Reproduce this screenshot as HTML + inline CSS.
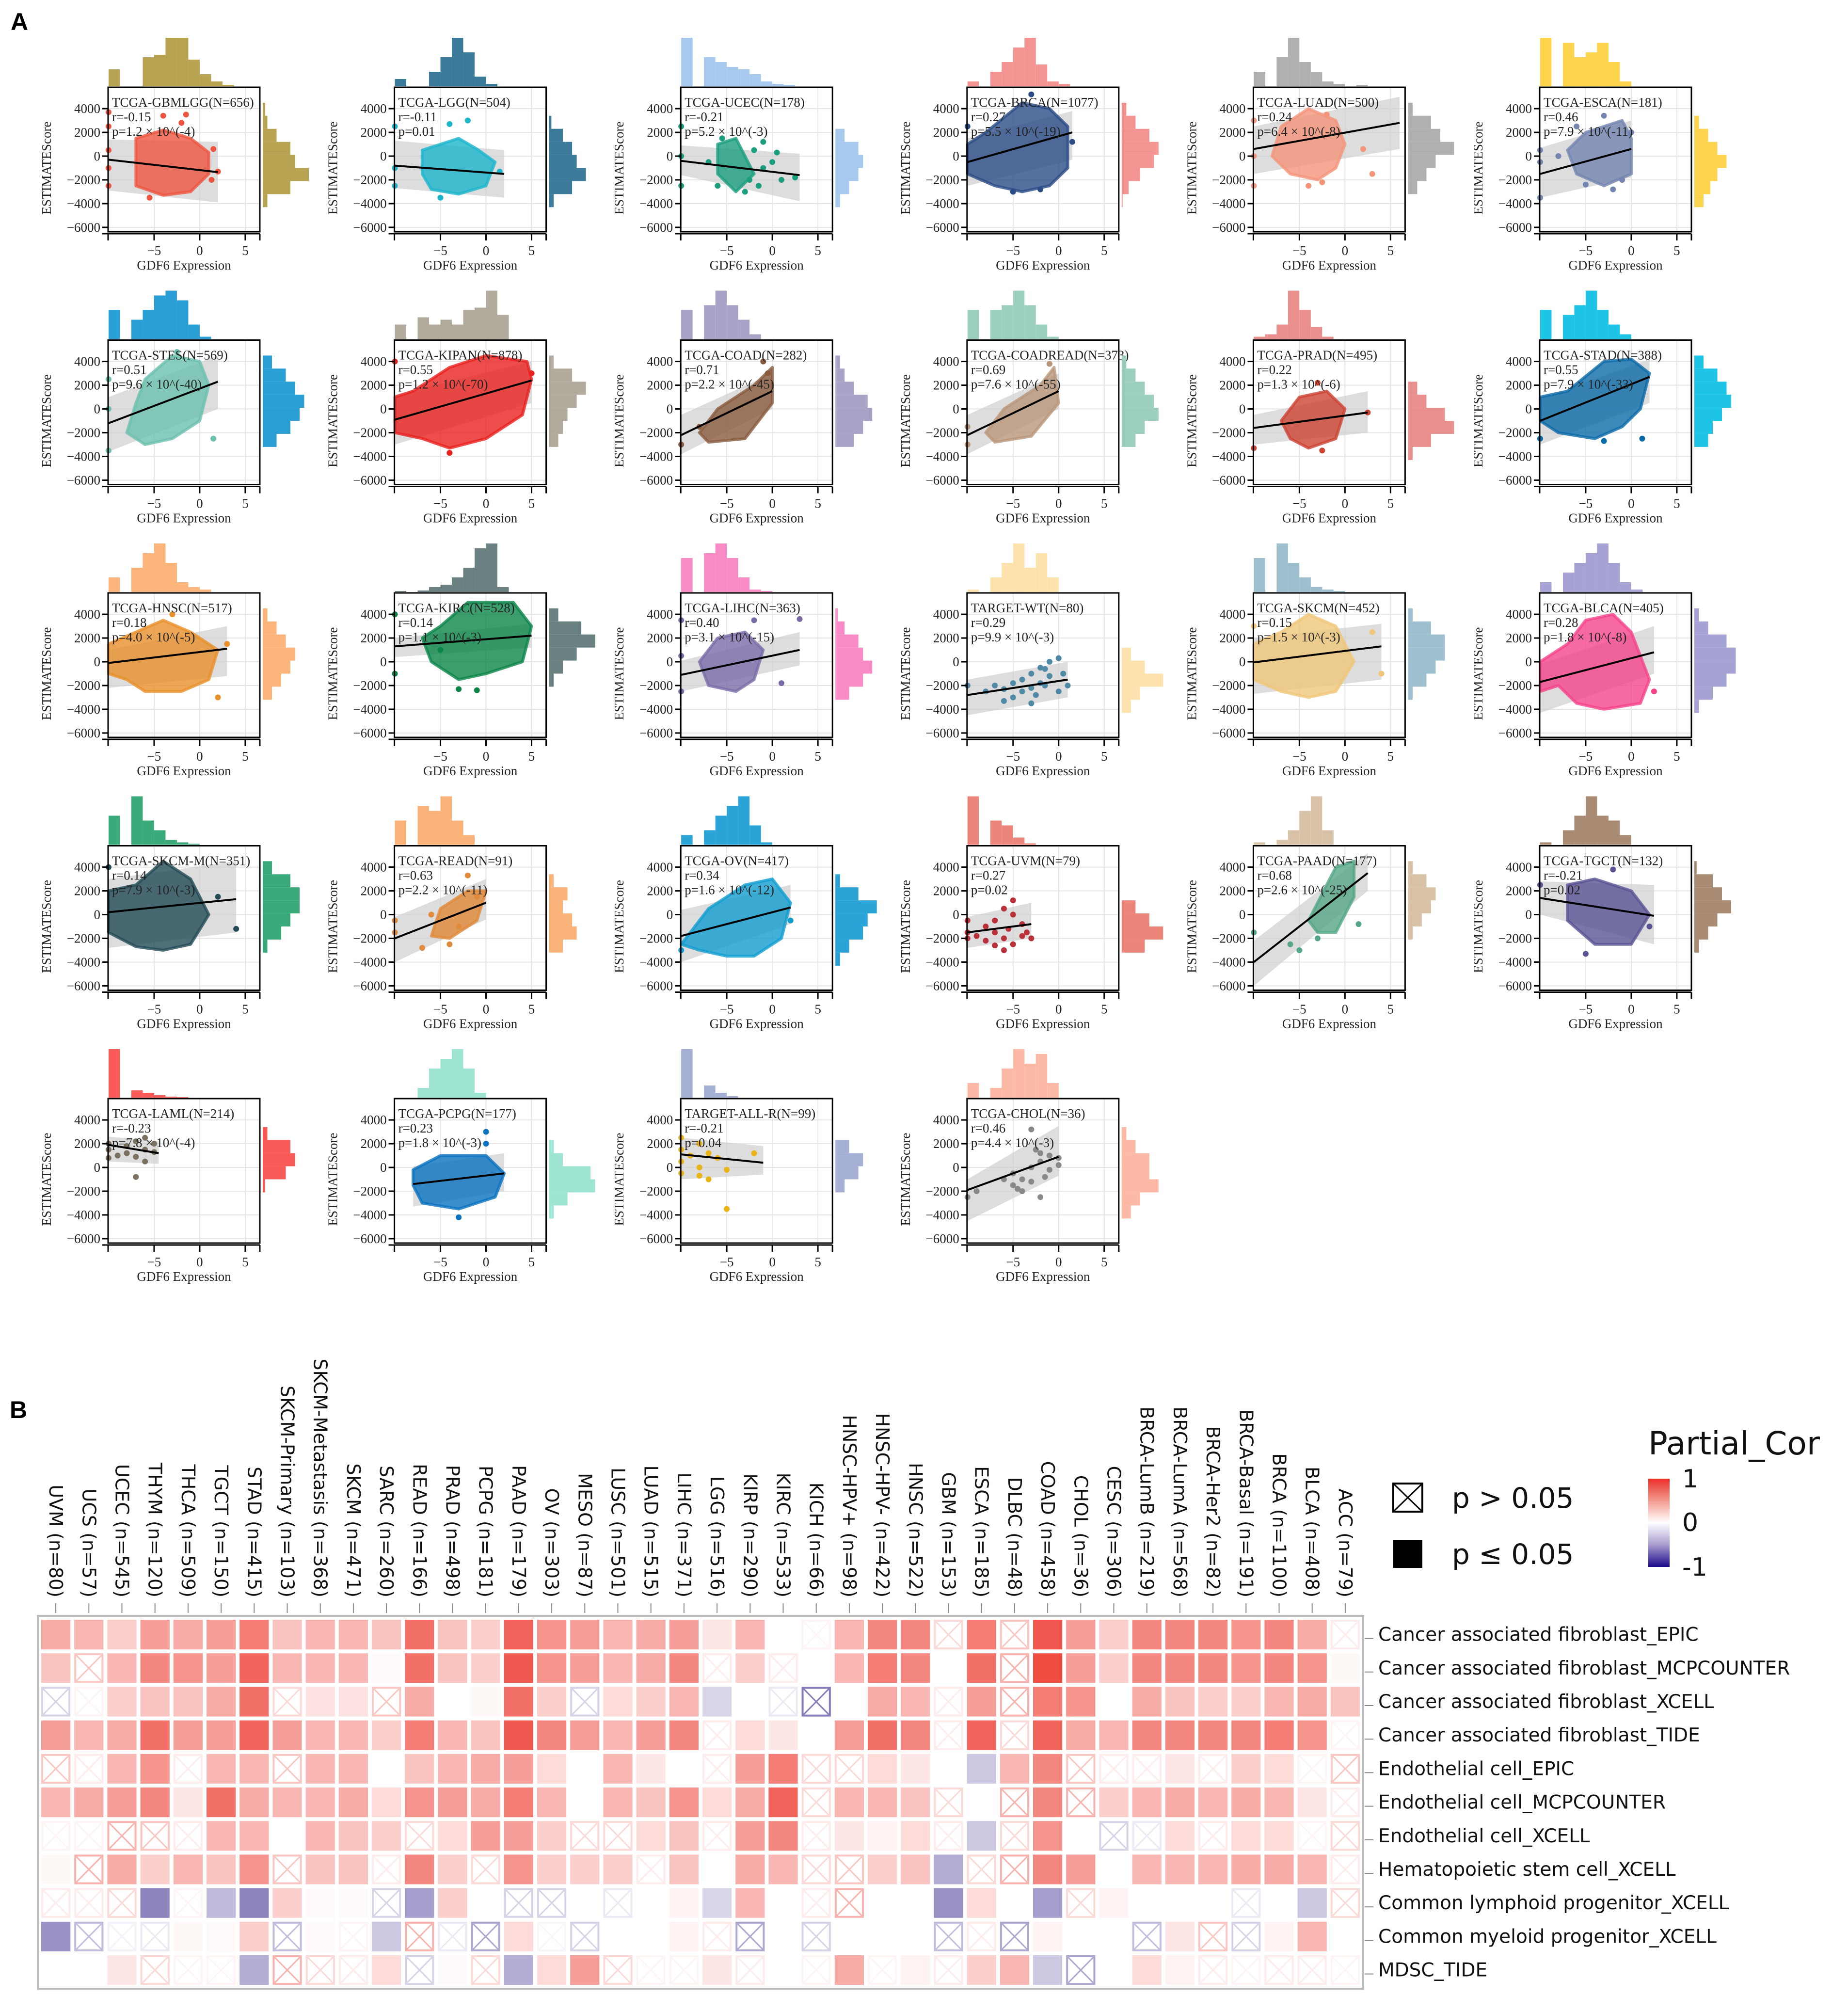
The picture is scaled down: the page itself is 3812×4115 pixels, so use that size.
<!DOCTYPE html>
<html><head><meta charset="utf-8"><style>
html,body{margin:0;padding:0;background:#fff;}
svg{display:block;}
</style></head><body>
<svg id="fig" width="3812" height="4115" viewBox="0 0 3812 4115" xmlns="http://www.w3.org/2000/svg">
<rect x="0" y="0" width="3812" height="4115" fill="#fff"/>
<text x="22" y="62" font-family="Liberation Sans, sans-serif" font-weight="bold" font-size="50">A</text>
<text x="20" y="2925" font-family="Liberation Sans, sans-serif" font-weight="bold" font-size="50">B</text>
<g id="scatters"></g>
<g id="heat"></g>
</svg>
<script>
// ---------- scatter panel data ----------
const panelNames=["TCGA-GBMLGG","TCGA-LGG","TCGA-UCEC","TCGA-BRCA","TCGA-LUAD","TCGA-ESCA","TCGA-STES","TCGA-KIPAN","TCGA-COAD","TCGA-COADREAD","TCGA-PRAD","TCGA-STAD","TCGA-HNSC","TCGA-KIRC","TCGA-LIHC","TARGET-WT","TCGA-SKCM","TCGA-BLCA","TCGA-SKCM-M","TCGA-READ","TCGA-OV","TCGA-UVM","TCGA-PAAD","TCGA-TGCT","TCGA-LAML","TCGA-PCPG","TARGET-ALL-R","TCGA-CHOL"];
const panelN=[656,504,178,1077,500,181,569,878,282,373,495,388,517,528,363,80,452,405,351,91,417,79,177,132,214,177,99,36];
const panelR=["-0.15","-0.11","-0.21","0.27","0.24","0.46","0.51","0.55","0.71","0.69","0.22","0.55","0.18","0.14","0.40","0.29","0.15","0.28","0.14","0.63","0.34","0.27","0.68","-0.21","-0.23","0.23","-0.21","0.46"];
const panelP=["1.2 × 10^(-4)","0.01","5.2 × 10^(-3)","5.5 × 10^(-19)","6.4 × 10^(-8)","7.9 × 10^(-11)","9.6 × 10^(-40)","1.2 × 10^(-70)","2.2 × 10^(-45)","7.6 × 10^(-55)","1.3 × 10^(-6)","7.9 × 10^(-33)","4.0 × 10^(-5)","1.1 × 10^(-3)","3.1 × 10^(-15)","9.9 × 10^(-3)","1.5 × 10^(-3)","1.8 × 10^(-8)","7.9 × 10^(-3)","2.2 × 10^(-11)","1.6 × 10^(-12)","0.02","2.6 × 10^(-25)","0.02","7.8 × 10^(-4)","1.8 × 10^(-3)","0.04","4.4 × 10^(-3)"];
const lineX0=[-10,-10,-10,-10,-10,-10,-10,-10,-10,-10,-10,-10,-10,-10,-10,-10,-10,-10,-10,-10,-10,-10,-10,-10,-10,-8,-10,-10];
const lineY0=[-300,-800,-400,-500,600,-1500,-1200,-900,-2200,-2200,-1600,-1000,-100,1300,-1100,-2800,-50,-1700,200,-2000,-1800,-1500,-4000,1400,1900,-1400,1100,-1900];
const lineX1=[2,2,3,1.5,6,0,2,5,0,0,2.5,2,3,5,3,1,4,2.5,4,0,2,-3,2.5,2.5,-4.5,2,-1,0];
const lineY1=[-1350,-1500,-1600,2000,2800,600,2300,2400,1500,1500,-300,2700,1100,2200,1000,-1500,1300,800,1300,1000,600,-800,3500,-100,1200,-500,400,900];
const bandLo0=[-2900,-2700,-1600,-2500,-1500,-3500,-3600,-3000,-3800,-3800,-3000,-3000,-2200,400,-2500,-4500,-2700,-4300,-2800,-4000,-4000,-2800,-6000,0,500,-3300,-1000,-4500];
const bandHi0=[1400,1300,900,1500,2500,700,1000,1200,-500,-500,-500,800,1000,2000,100,-1500,2000,-200,3000,-200,400,-200,-2200,2800,2600,100,2500,-1000];
const bandLo1=[-3900,-3500,-3800,-300,600,-1800,0,500,0,0,-2000,500,-1200,1200,-300,-3000,-1500,-1000,-1500,-400,-800,-2000,2000,-2500,300,-2000,-600,-700];
const bandHi1=[1200,500,200,3800,5000,3000,4500,4000,3000,3000,1500,4200,3000,3200,2500,0,3200,3000,4500,3000,2500,1000,5200,2500,2200,1200,1800,3500];
const hulls=[
[[-7,1500],[-4,2200],[-1,1500],[1,300],[1,-1500],[-1,-3000],[-4,-3300],[-7,-2500]],
[[-7,500],[-3,1500],[-1,600],[1,-500],[0,-2500],[-3,-3200],[-6,-2800],[-7,-1500]],
[[-6,1000],[-4,1500],[-3,0],[-2,-1500],[-4,-3000],[-6,-1500]],
[[-8,2000],[-4,4500],[-1,4000],[1,2500],[1,-1000],[-1,-2500],[-4,-3000],[-7,-2500],[-10,-1500],[-10,1000]],
[[-7,2500],[-4,4000],[-1,3000],[0,1000],[-1,-1000],[-3,-2000],[-6,-1500],[-8,0]],
[[-5,2000],[-1,3000],[0,1500],[0,-1500],[-3,-2500],[-6,-1500],[-7,500]],
[[-6,2500],[-3,4500],[0,4000],[1,2000],[0,-1000],[-3,-2500],[-6,-3000],[-8,-2000],[-7,500]],
[[-8,1500],[-4,3500],[0,4500],[4.5,4000],[5,2500],[4,-500],[0,-2500],[-4,-3300],[-7,-2500],[-10,-2000],[-10,1000]],
[[-6,0],[-2,2000],[0,3500],[0,500],[-3,-2500],[-7,-2800],[-8,-2000]],
[[-6,0],[-2,2000],[-0.5,3500],[0,500],[-3,-2300],[-7,-2800],[-8,-2000]],
[[-5,1000],[-2,1500],[0,0],[-1,-2500],[-4,-3300],[-6,-2500],[-7,-1000]],
[[-7,1500],[-3,4000],[0,4200],[2,3000],[1,0],[-1,-1500],[-4,-2500],[-8,-2000],[-10,-1000],[-10,1000]],
[[-7,2500],[-4,3500],[-1,2500],[2,1000],[1,-1500],[-2,-2500],[-6,-2500],[-8,-1500],[-10,-1000],[-10,1500]],
[[-5,3000],[-2,5000],[3,5000],[5,3000],[4,0],[0,-1000],[-3,-1500],[-6,0],[-7,2000]],
[[-6,2000],[-3,2500],[-1,1000],[-2,-1500],[-4,-2500],[-7,-2000],[-8,0]],
[],
[[-7,2500],[-4,4000],[-1,3000],[1,0],[-1,-2500],[-4,-3000],[-7,-2500],[-10,-1500],[-10,1500]],
[[-5,3500],[-2,4000],[0,2500],[2,-1500],[1,-3500],[-3,-4000],[-6,-3500],[-8,-2000],[-10,-2500],[-10,0],[-7,1500]],
[[-7,2500],[-4,4500],[-1,3000],[1,0],[-1,-2500],[-4,-3000],[-7,-2700],[-10,-1500],[-10,2000]],
[[-5,500],[-2,2000],[0,2000],[-1,-500],[-4,-2000],[-6,-1800]],
[[-7,500],[-3,2500],[0,3000],[2,1000],[1,-2000],[-2,-3500],[-5,-3500],[-8,-3000],[-10,-2500]],
[],
[[-3,1000],[-1,4000],[1,4500],[1,1500],[-1,-1500],[-3,-1500],[-4,-500]],
[[-7,2500],[-4,3000],[0,2000],[2,0],[0,-2500],[-4,-2500],[-7,-500]],
[],
[[-8,-200],[-5,1000],[0,1000],[2,-500],[1,-2500],[-3,-3500],[-7,-3000],[-8,-1500]],
[],
[]];
const outliers=[
[[-10,3700],[-10,2500],[-10,500],[-10,-1000],[-10,-2500],[-4,3400],[-1.5,3500],[-2,2800],[1.5,600],[2,-1300],[1.3,-2000],[-5.5,-3500]],
[[-10,2500],[-10,-1000],[-10,-2500],[-4,2700],[-2,3000],[-5,-3500],[1.5,-1300]],
[[-10,2500],[-10,0],[-10,-2500],[-1,1200],[0,-500],[1,-2000],[2.5,-1800],[-1.5,-2500],[-3,-3000],[-2,500],[-5.5,1500],[-1,-1000],[0.5,300],[-2.5,-2000],[-7,-500],[-6,-2500]],
[[-10,2500],[-3,5200],[1.5,1200],[-5,-3000],[-2,-2800]],
[[-10,3000],[-10,0],[-10,-2500],[-4,-2500],[-2.5,-2200],[2,600],[3,-1500],[-2,3500]],
[[-10,-3500],[-10,-500],[-10,500],[-8,0],[-6,2500],[-3,3400],[-1,-2000],[-5,-2400],[0,2000],[-2,-2800]],
[[-10,-3500],[-10,2500],[-10,0],[1.5,-2500],[-2.5,4800]],
[[-10,4000],[-4,-3700],[5,3000]],
[[-10,-3000],[-1,4000],[-0.5,3000],[-8,-1500]],
[[-10,-3000],[-10,-1500],[-1,3800]],
[[-10,-3300],[-3,2200],[2.5,-300],[-2.5,-3500]],
[[-10,-2500],[1.2,-2500],[-3,-2700]],
[[2,-3000],[-3,4000],[3,1500]],
[[-10,4000],[-10,-1000],[-3,-2300],[-1,-2400],[-5,1000]],
[[-10,3500],[-10,-2500],[1,-1800],[-2,3500],[3,3600],[-10,500]],
[[-10,-2000],[-8,-2500],[-7,-2000],[-6,-2300],[-5,-1800],[-5,-3000],[-4,-2500],[-4,-1500],[-3,-1000],[-3,-2200],[-2.5,-2800],[-2,-500],[-2,-1800],[-1.5,-2000],[-1,0],[-1,-1200],[0,-2500],[0,300],[0.5,-1000],[1,-2000],[-3,-3500],[-6,-3300],[-1.5,-600]],
[[3,2500],[4,-1000],[-10,3000]],
[[2.5,-2500]],
[[-10,4000],[4,-1200],[2,1500]],
[[-10,-500],[-10,-1500],[-7,-2800],[-4,-2500],[-2,3300],[-1,1500],[-3,-1000],[-6,0]],
[[-10,-3000],[2,-500]],
[[-10,-2000],[-10,-500],[-10,-1500],[-9,-1800],[-8,-1000],[-8,-2200],[-7,-500],[-7,-1500],[-6,-2000],[-6,-3000],[-6,500],[-5.5,-1200],[-5,-2500],[-5,1200],[-4,-1800],[-4,-800],[-3.5,-1500],[-3,-2000],[-5,0],[-7,-2600]],
[[-6,-2500],[-5,-3000],[-10,-1500],[-3,-2000],[1.5,-800]],
[[-10,2500],[-5,-3300],[-2,3800],[2,-1000]],
[[-10,2000],[-10,1500],[-10,800],[-8,1800],[-8,1200],[-7,2200],[-7,900],[-6,1500],[-6,500],[-5,1300],[-5,2000],[-7,-800],[-9,1000],[-6,2500]],
[[0,3000],[0,2000],[-3,-4200]],
[[-10,2500],[-10,1500],[-10,500],[-10,-500],[-9,1000],[-8,2000],[-8,0],[-7,-1000],[-7,1200],[-6,800],[-5,-200],[-5,-3500],[-2,1200],[-8,-700]],
[[-10,-2500],[-9,-2000],[-6,-1000],[-5,-500],[-5,-1500],[-4,-1000],[-4,-2000],[-3,0],[-3,-1200],[-2.5,1500],[-2,500],[-2,-2500],[-1.5,-800],[-1,-200],[-1,1000],[0,200],[-3,3200],[-4.5,-1800],[-2,1200],[0,800]]];
const topHist=[
[0.35,0,0,0.6,0.65,1,1,0.55,0.25,0.1,0.03],
[0.15,0,0,0.3,0.6,1,0.7,0.2,0.05,0],
[1,0,0.6,0.5,0.4,0.35,0.25,0.1,0.05,0.03],
[0.1,0,0.3,0.5,0.8,1,0.45,0.1,0.05],
[0.3,0,0.6,1,0.5,0.3,0.1,0.05,0,0.03],
[1,0,0.9,0.6,0.7,0.9,0.5,0.1],
[0.6,0,0.4,0.6,0.9,1,0.8,0.3,0.05],
[0.3,0,0.45,0.3,0.4,0.3,0.6,0.65,1,0.5],
[0.6,0,0.7,1,0.7,0.4,0.1],
[0.6,0,0.6,0.7,1,0.7,0.3,0.05],
[0.05,0.1,0.3,1,0.6,0.25,0.05],
[0.6,0,0.5,0.7,1,0.6,0.3,0.1],
[0.3,0,0.5,0.8,1,0.6,0.2,0.1,0.05],
[0.02,0,0.03,0.1,0.15,0.3,0.5,0.9,1,0.1],
[0.7,0,0.8,1,0.7,0.3,0.05,0.02],
[0.05,0,0.3,0.6,1,0.5,0.8,0.3],
[0.7,0,1,0.6,0.3,0.1,0.05,0.02],
[0.2,0,0.4,0.6,0.8,1,0.6,0.2,0.05],
[0.6,0,1,0.5,0.3,0.1,0.05,0.02],
[0.5,0,0.8,0.7,1,0.5,0.2],
[0.2,0,0.3,0.6,0.8,1,0.4,0.05],
[1,0,0.5,0.4,0.15,0.03],
[0.05,0,0.1,0.3,0.7,1,0.3],
[0.05,0,0.3,0.6,1,0.6,0.5,0.2],
[1,0,0.15,0.1,0.05,0.02,0.01],
[0,0,0.2,0.6,0.8,1,0.6,0.1],
[1,0,0.25,0.1,0.03],
[0.3,0,0.2,0.6,1,0.7,0.9,0.3]];
const rightHist=[
[0.05,0.1,0.3,0.6,0.7,1,0.6,0.1],
[0,0.05,0.3,0.5,0.6,0.8,0.5,0.1],
[0,0,0.2,0.5,0.6,0.5,0.3,0.1],
[0.1,0.3,0.6,0.8,0.7,0.4,0.15,0.02],
[0.1,0.5,0.7,1,0.6,0.4,0.2,0],
[0,0.1,0.3,0.5,0.7,0.5,0.35,0.2],
[0.2,0.5,0.7,0.9,0.8,0.6,0.3,0],
[0.1,0.5,0.8,0.6,0.4,0.3,0.2,0],
[0.1,0.2,0.4,0.7,0.8,0.6,0.4,0],
[0.1,0.3,0.5,0.7,0.8,0.5,0.3,0],
[0,0,0.2,0.4,0.8,1,0.5,0.1],
[0.2,0.5,0.7,0.8,0.6,0.4,0.3,0],
[0.1,0.3,0.5,0.7,0.6,0.4,0.2,0],
[0.2,0.7,1,0.6,0.3,0.1,0,0],
[0.05,0.2,0.5,0.6,0.8,0.6,0.3,0],
[0,0,0,0.2,0.5,0.9,0.4,0.2],
[0.1,0.5,0.8,0.8,0.6,0.4,0.1,0],
[0.1,0.3,0.7,0.9,0.9,0.7,0.4,0.1],
[0.2,0.6,0.8,0.8,0.6,0.4,0.1,0],
[0,0.1,0.4,0.3,0.5,0.6,0.3,0],
[0,0.1,0.5,0.9,0.7,0.6,0.3,0.1],
[0,0,0,0.3,0.6,0.9,0.5,0],
[0.1,0.4,0.6,0.5,0.3,0.1,0,0],
[0.05,0.4,0.6,0.8,0.5,0.3,0.1,0],
[0,0.1,0.6,0.7,0.5,0.05,0,0],
[0,0,0.1,0.3,0.9,1,0.4,0.1],
[0,0,0.3,0.6,0.5,0.2,0,0],
[0,0.1,0.3,0.6,0.6,0.8,0.4,0.2]];
const yTicks=[4000,2000,0,-2000,-4000,-6000];
const xTicks=[-5,0,5];
// style (not data)
const pointColors=["#ee5540","#1bb5cc","#1a9e7e","#2b4c86","#f4957a","#7385b0","#6cc0ae","#e8201e","#8a5b3e","#b9967a","#cc4433","#0b6aa8","#e8902a","#0b8448","#7a6ba8","#4e8aa6","#f0c77a","#f4448a","#234b56","#e08a3a","#119ecf","#b83038","#55a687","#595494","#7a7060","#0a72bf","#e8b418","#888888"];
const histColors=["#b8a352","#3c7a9a","#a7c9ee","#f39492","#b0b0b0","#fcd44e","#2a9fd6","#b2aa9d","#a9a3c8","#9dcfbe","#e98f8d","#1ec4e6","#fbb479","#6b8080","#f88bc6","#fde2ad","#9ebfce","#a6a2d4","#3aaa7a","#f9b378","#2aa4d6","#ec857a","#d9c3a8","#a98a72","#f85a58","#9fe4d2","#a5aed4","#fcbaa6"];

const NS="http://www.w3.org/2000/svg";
function mk(tag,attrs,parent){const e=document.createElementNS(NS,tag);for(const k in attrs)e.setAttribute(k,attrs[k]);if(parent)parent.appendChild(e);return e;}
const XMIN=-10.05,XMAX=6.6,YMIN=-6370,YMAX=5800,BW=313,BH=298;
const scat=document.getElementById('scatters');
const SERIF="Liberation Serif, serif";
panelNames.forEach((nm,i)=>{
  const col=i%6,row=Math.floor(i/6);
  const L=223+col*590.6,T=180+row*521.5;
  const sx=x=>L+(x-XMIN)/(XMAX-XMIN)*BW;
  const sy=y=>T+(YMAX-y)/(YMAX-YMIN)*BH;
  const g=mk('g',{},scat);
  
  
  yTicks.forEach(t=>{const l=mk('line',{x1:L,x2:L+BW,y1:sy(t),y2:sy(t),stroke:'#e4e4e4','stroke-width':2},g);});
  xTicks.forEach(t=>{const l=mk('line',{x1:sx(t),x2:sx(t),y1:T,y2:T+BH,stroke:'#e4e4e4','stroke-width':2},g);});
  const bx1=lineX1[i];
  const band=mk('polygon',{points:[[sx(lineX0[i]),sy(bandHi0[i])],[sx(bx1),sy(bandHi1[i])],[sx(bx1),sy(bandLo1[i])],[sx(lineX0[i]),sy(bandLo0[i])]].map(p=>p.join(',')).join(' '),fill:'#cfcfcf','fill-opacity':0.7},g);
  
  if(hulls[i].length){
    const h=mk('polygon',{points:hulls[i].map(p=>sx(p[0])+','+sy(p[1])).join(' '),fill:pointColors[i],stroke:pointColors[i],'stroke-width':6,'stroke-linejoin':'round','fill-opacity':0.8,'stroke-opacity':0.8},g);
    
  }
  outliers[i].forEach(p=>{const c=mk('circle',{cx:sx(p[0]),cy:sy(p[1]),r:6,fill:pointColors[i]},g);});
  const rl=mk('line',{x1:sx(lineX0[i]),y1:sy(lineY0[i]),x2:sx(lineX1[i]),y2:sy(lineY1[i]),stroke:'#000','stroke-width':4},g);
  
  const bx=mk('rect',{x:L,y:T,width:BW,height:BH,fill:'none',stroke:'#000','stroke-width':3},g);
  
  mk('line',{x1:L-12,x2:L+BW,y1:T+BH+4,y2:T+BH+4,stroke:'#000','stroke-width':3},g);
  yTicks.forEach(t=>{
    mk('line',{x1:L-12,x2:L,y1:sy(t),y2:sy(t),stroke:'#000','stroke-width':3},g);
    const tx=mk('text',{x:L-16,y:sy(t)+9,'text-anchor':'end','font-family':SERIF,'font-size':27,fill:'#222'},g);
    tx.textContent=t<0?'−'+(-t):String(t);
    
  });
  [XMIN,...xTicks,XMAX].forEach(t=>{mk('line',{x1:sx(t),x2:sx(t),y1:T+BH+4,y2:T+BH+18,stroke:'#000','stroke-width':3},g);});
  xTicks.forEach(t=>{
    const tx=mk('text',{x:sx(t),y:T+BH+48,'text-anchor':'middle','font-family':SERIF,'font-size':27,fill:'#222'},g);
    tx.textContent=t<0?'−'+(-t):String(t);
    
  });
  const xl=mk('text',{x:L+BW/2,y:T+BH+78,'text-anchor':'middle','font-family':SERIF,'font-size':27,fill:'#222'},g);
  xl.textContent='GDF6 Expression';
  const yl=mk('text',{x:0,y:0,'text-anchor':'middle','font-family':SERIF,'font-size':27,fill:'#222',transform:`translate(${L-118},${sy(-1000)}) rotate(-90)`},g);
  yl.textContent='ESTIMATEScore';
  [nm+'(N='+panelN[i]+')','r='+panelR[i],'p='+panelP[i]].forEach((s,k)=>{
    const a=mk('text',{x:L+8,y:T+40+k*30,'font-family':SERIF,'font-size':27,fill:'#222'},g);
    a.textContent=s;
  });
  const bwid=1.25;
  topHist[i].forEach((v,k)=>{
    if(v<=0)return;
    const x0=sx(-10+k*bwid),x1=sx(-10+(k+1)*bwid),hh=v*100;
    const r=mk('rect',{x:x0,y:T-2-hh,width:x1-x0,height:hh,fill:histColors[i]},g);
    
  });
  const ybin=1100;
  rightHist[i].forEach((v,k)=>{
    if(v<=0)return;
    const y0=sy(4500-k*ybin),y1=sy(4500-(k+1)*ybin),ww=v*95;
    const r=mk('rect',{x:L+BW+6,y:y0,width:ww,height:y1-y0,fill:histColors[i]},g);
    
  });
});

// ---------- heatmap data ----------
const heatCols=["UVM (n=80)","UCS (n=57)","UCEC (n=545)","THYM (n=120)","THCA (n=509)","TGCT (n=150)","STAD (n=415)","SKCM-Primary (n=103)","SKCM-Metastasis (n=368)","SKCM (n=471)","SARC (n=260)","READ (n=166)","PRAD (n=498)","PCPG (n=181)","PAAD (n=179)","OV (n=303)","MESO (n=87)","LUSC (n=501)","LUAD (n=515)","LIHC (n=371)","LGG (n=516)","KIRP (n=290)","KIRC (n=533)","KICH (n=66)","HNSC-HPV+ (n=98)","HNSC-HPV- (n=422)","HNSC (n=522)","GBM (n=153)","ESCA (n=185)","DLBC (n=48)","COAD (n=458)","CHOL (n=36)","CESC (n=306)","BRCA-LumB (n=219)","BRCA-LumA (n=568)","BRCA-Her2 (n=82)","BRCA-Basal (n=191)","BRCA (n=1100)","BLCA (n=408)","ACC (n=79)"];
const heatRows=["Cancer associated fibroblast_EPIC","Cancer associated fibroblast_MCPCOUNTER","Cancer associated fibroblast_XCELL","Cancer associated fibroblast_TIDE","Endothelial cell_EPIC","Endothelial cell_MCPCOUNTER","Endothelial cell_XCELL","Hematopoietic stem cell_XCELL","Common lymphoid progenitor_XCELL","Common myeloid progenitor_XCELL","MDSC_TIDE"];
const cor1=[.35,.3,.2,.4,.35,.4,.55,.25,.3,.3,.25,.6,.25,.2,.65,.45,.4,.3,.35,.4,.1,.3,0,.03,.3,.5,.5,.1,.55,.15,.7,.4,.2,.5,.5,.5,.45,.5,.35,.05];
const cor2=[.25,.15,.3,.5,.45,.4,.65,.3,.3,.3,.02,.6,.25,.2,.7,.45,.4,.3,.35,.5,.05,.2,.05,0,.3,.55,.5,0,.6,.2,.75,.4,.2,.5,.5,.5,.45,.5,.45,.03];
const cor3=[-.1,.03,.2,.25,.25,.35,.6,.1,.12,.12,.15,.35,0,.03,.6,.2,-.1,.15,.2,.3,-.15,0,-.05,-.3,0,.35,.3,.05,.4,.2,.55,.45,0,.35,.25,.2,.2,.3,.35,.25];
const cor4=[.4,.3,.35,.6,.4,.4,.65,.4,.3,.3,.2,.55,.3,.25,.7,.5,.4,.3,.4,.5,.05,.15,.1,0,.4,.6,.5,.05,.65,.1,.65,.35,.3,.5,.5,.5,.5,.55,.45,.03];
const cor5=[.15,.05,.3,.45,.05,.3,.3,.15,.3,.3,0,.25,.3,.35,.4,.15,0,.3,.1,0,.05,.4,.55,.1,.1,.15,.1,0,-.2,.3,.5,.15,.05,.05,.1,.05,.2,.15,.03,.15];
const cor6=[.3,.35,.4,.5,.1,.6,.35,.3,.3,.35,.15,.45,.4,.35,.55,.3,0,.3,.25,.45,.15,.35,.65,.1,.3,.3,.25,.1,0,.2,.5,.2,.2,.3,.35,.3,.35,.3,.1,.05];
const cor7=[.03,.03,.2,.15,.05,.3,.3,0,.3,.25,.2,.1,.15,.4,.4,.2,.1,.1,.15,.25,.05,.4,.5,.05,.1,.05,.15,.05,-.2,.1,.45,0,-.1,-.05,.15,.05,.15,.15,.03,.1];
const cor8=[.03,.2,.35,.2,.3,.25,.45,.15,.25,.25,.05,.5,.2,.1,.45,.2,.2,.2,.05,.25,0,.35,.3,.1,.15,.2,.25,-.3,.1,.2,.5,.4,0,.3,.3,.3,.35,.35,.3,.05];
const cor9=[.05,.05,.1,-.45,.03,-.25,-.45,.2,.02,.02,-.1,-.35,.2,0,-.1,-.1,0,-.05,0,.05,-.15,.3,0,.05,.2,0,0,-.4,.15,0,-.35,.1,.05,0,0,0,-.05,0,-.2,.1];
const cor10=[-.4,-.15,-.03,-.05,.03,.02,.2,-.15,.02,.03,-.2,.2,-.05,-.2,.15,-.02,-.1,0,0,.05,.05,-.2,0,-.1,0,0,0,-.15,.05,-.2,.05,0,0,-.15,.1,.15,-.1,.05,.3,0];
const cor11=[0,0,.1,.1,.03,.03,-.3,.2,.1,.05,.15,-.1,.02,.1,-.3,.15,.4,.1,.03,.03,.1,.05,0,.03,.35,.03,.05,.05,.2,.3,-.2,-.2,0,.15,.05,.05,.03,.05,.05,.03];
const cors=[cor1,cor2,cor3,cor4,cor5,cor6,cor7,cor8,cor9,cor10,cor11];
const ns1=[24,28,30,40],ns2=[2,21,23,30],ns3=[1,2,8,11,17,23,24,28,30],ns4=[21,28,30,40],ns5=[1,2,5,8,21,24,25,32,33,34,36,39,40],ns6=[24,28,30,32,40],ns7=[1,2,3,4,5,12,17,18,21,24,28,30,33,34,36,39,40],ns8=[2,8,11,14,19,24,25,29,30,40],ns9=[1,2,3,5,11,15,16,18,24,25,32,37,40],ns10=[2,3,4,8,10,12,13,14,16,17,21,22,24,28,29,30,34,36,37],ns11=[4,5,6,8,9,10,12,14,18,19,20,22,24,26,28,32,36,37,38,39,40];
const nss=[ns1,ns2,ns3,ns4,ns5,ns6,ns7,ns8,ns9,ns10,ns11];

function corColor(v){
  const t=Math.min(1,Math.abs(v)/0.85);
  const end=v>=0?[236,52,40]:[40,20,130];
  const c=[0,1,2].map(k=>Math.round(255+(end[k]-255)*t));
  return `rgb(${c[0]},${c[1]},${c[2]})`;
}
const H=document.getElementById('heat');
const HX=81,HY=3337,CW=68.2,CH=69.2;
const cellX=j=>HX+j*CW, cellY=i=>HY+i*CH;
const frame=mk('rect',{x:HX-3,y:HY-4,width:heatCols.length*CW+6,height:heatRows.length*CH+8,fill:'none',stroke:'#bdbdbd','stroke-width':4},H);

cors.forEach((rowv,i)=>{
  rowv.forEach((v,j)=>{
    const x=cellX(j)+4,y=cellY(i)+4,w=CW-8,h=CH-8;
    const notSig=nss[i].indexOf(j+1)>=0;
    if(notSig){
      const c=corColor(v*1.6);
      const g=mk('g',{},H);
      
      mk('rect',{x:x+2,y:y+2,width:w-4,height:h-4,fill:'#fff',stroke:c,'stroke-width':4},g);
      mk('line',{x1:x+2,y1:y+2,x2:x+w-2,y2:y+h-2,stroke:c,'stroke-width':3},g);
      mk('line',{x1:x+w-2,y1:y+2,x2:x+2,y2:y+h-2,stroke:c,'stroke-width':3},g);
    } else {
      const r=mk('rect',{x:x,y:y,width:w,height:h,fill:corColor(v)},H);
      
    }
  });
});
heatCols.forEach((c,j)=>{
  const cx=cellX(j)+CW/2;
  mk('line',{x1:cx,x2:cx,y1:HY-30,y2:HY-10,stroke:'#888','stroke-width':2},H);
  const t=mk('text',{x:0,y:0,'text-anchor':'end','dominant-baseline':'central','font-family':'DejaVu Sans, sans-serif','font-size':38,fill:'#111',transform:`translate(${cx},${HY-42}) rotate(90)`},H);
  t.textContent=c;
});
heatRows.forEach((r,i)=>{
  const cy=cellY(i)+CH/2;
  mk('line',{x1:HX+heatCols.length*CW+6,x2:HX+heatCols.length*CW+24,y1:cy+8,y2:cy+8,stroke:'#888','stroke-width':2},H);
  const t=mk('text',{x:2843,y:cy+13,'font-family':'DejaVu Sans, sans-serif','font-size':39,fill:'#111'},H);
  t.textContent=r;
});
const lg=mk('g',{},H);
mk('rect',{x:2874,y:3060,width:60,height:58,fill:'#fff',stroke:'#000','stroke-width':4},lg);
mk('line',{x1:2874,y1:3060,x2:2934,y2:3118,stroke:'#000','stroke-width':3},lg);
mk('line',{x1:2934,y1:3060,x2:2874,y2:3118,stroke:'#000','stroke-width':3},lg);
mk('rect',{x:2874,y:3176,width:60,height:58,fill:'#000'},lg);
const l1=mk('text',{x:2995,y:3110,'font-family':'DejaVu Sans, sans-serif','font-size':58,fill:'#111'},lg);l1.textContent='p > 0.05';

const l2=mk('text',{x:2995,y:3226,'font-family':'DejaVu Sans, sans-serif','font-size':58,fill:'#111'},lg);l2.textContent='p ≤ 0.05';

const defs=mk('defs',{},document.getElementById('fig'));
const gr=mk('linearGradient',{id:'cb',x1:0,y1:0,x2:0,y2:1},defs);
[['0%','#e8302a'],['25%','#f39a8e'],['50%','#ffffff'],['75%','#a99bd0'],['100%','#1a0a8a']].forEach(s=>mk('stop',{offset:s[0],'stop-color':s[1]},gr));
const cb=mk('rect',{x:3400,y:3050,width:44,height:182,fill:'url(#cb)'},H);
const ct=mk('text',{x:3400,y:3000,'font-family':'DejaVu Sans, sans-serif','font-size':66,fill:'#111'},H);ct.textContent='Partial_Cor';

[['1',3068],['0',3158],['-1',3250]].forEach(p=>{const t=mk('text',{x:3470,y:p[1],'font-family':'DejaVu Sans, sans-serif','font-size':52,fill:'#111'},H);t.textContent=p[0];});
</script>
</body></html>
